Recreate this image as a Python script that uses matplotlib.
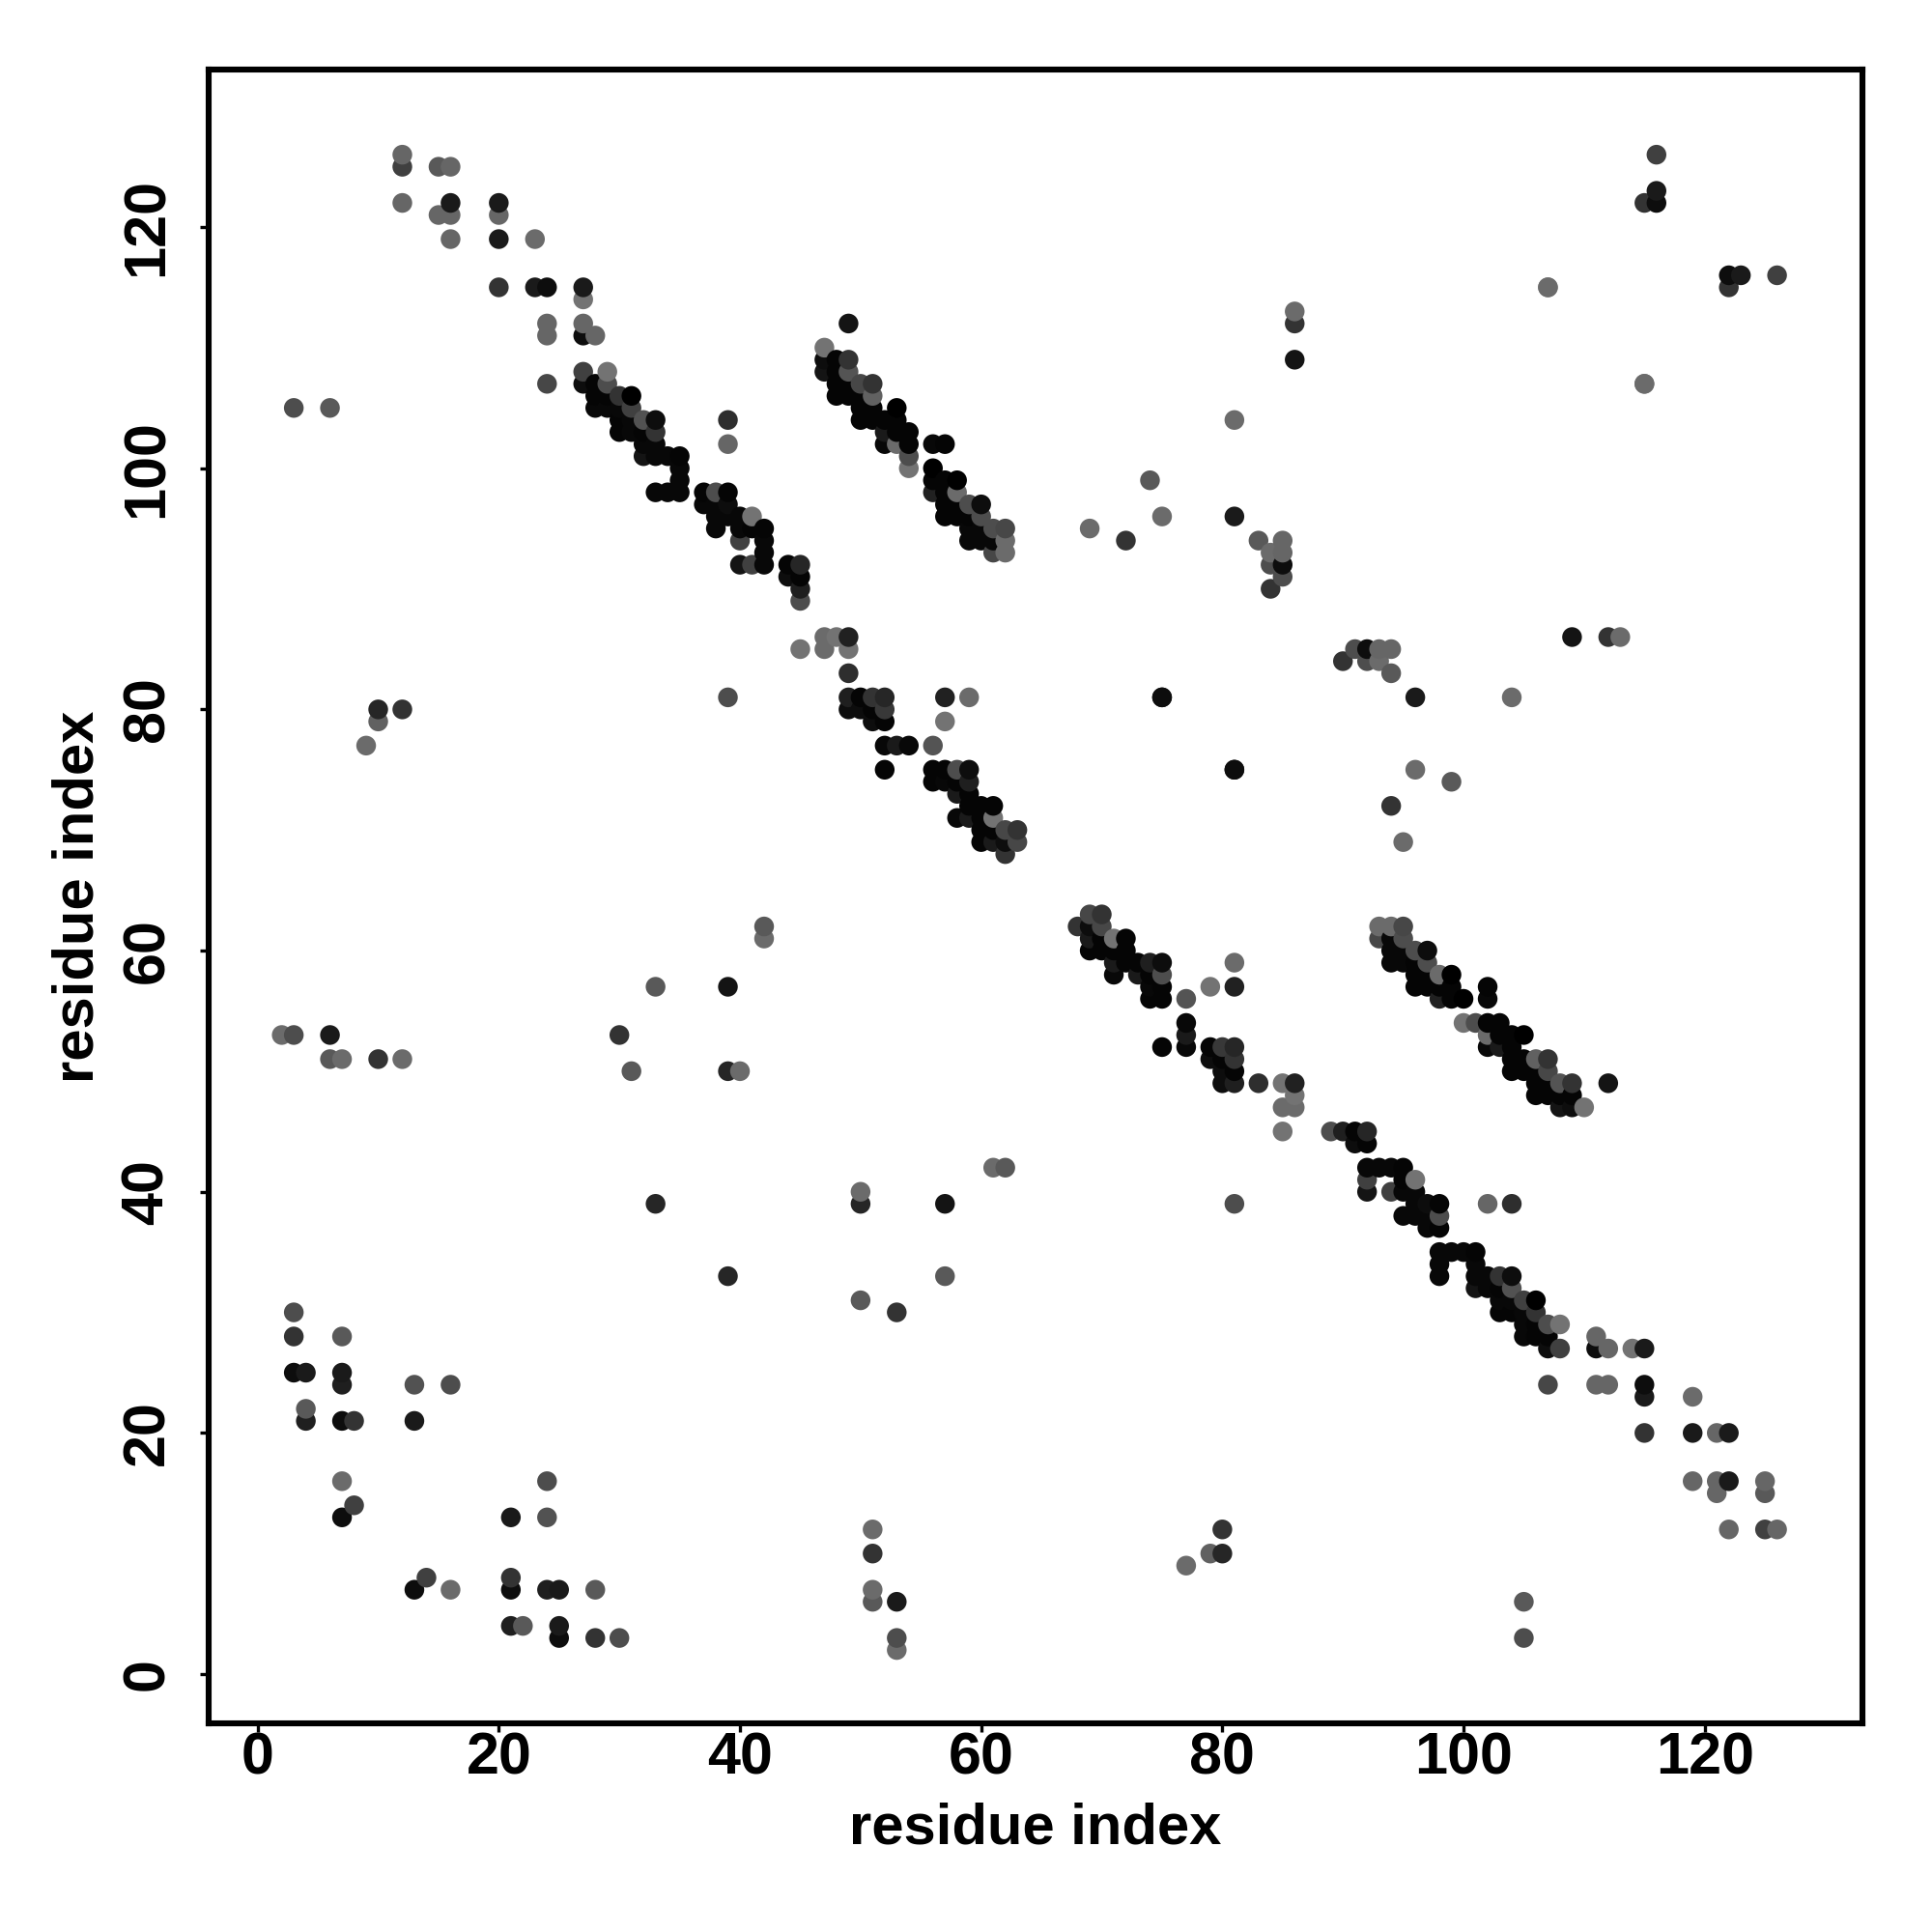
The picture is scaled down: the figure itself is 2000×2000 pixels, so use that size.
"""Residue contact map, symmetric, drawn from the contacts above the diagonal."""
import matplotlib
matplotlib.use("Agg")
import matplotlib.pyplot as plt
import numpy as np

plt.rcParams["font.family"] = ["Liberation Sans", "DejaVu Sans"]
plt.rcParams["font.weight"] = "bold"

ticks = [0, 20, 40, 60, 80, 100, 120]

# long strand pairing, residues 24-63 against 108-68
strand_a_i = [27, 29,
              24, 27, 28, 29,
              28, 29, 30, 31,
              28, 29, 30, 31,
              30, 31, 32, 33,
              30, 31, 32, 33,
              32, 33,
              32, 33, 34, 35,
              35, 35,
              33, 34, 35, 37, 38, 39,
              37, 38, 39,
              38, 39, 40, 41,
              38, 40, 41, 42,
              40, 42, 42,
              40, 41, 42, 44, 45,
              44, 45, 45, 45]
strand_a_j = [108, 108,
              107, 107, 107, 107,
              106, 106, 106, 106,
              105, 105, 105, 105,
              104, 104, 104, 104,
              103, 103, 103, 103,
              102, 102,
              101, 101, 101, 101,
              100, 99,
              98, 98, 98, 98, 98, 98,
              97, 97, 97,
              96, 96, 96, 96,
              95, 95, 95, 95,
              94, 94, 93,
              92, 92, 92, 92, 92,
              91, 91, 90, 89]
strand_a_grey = [.25, .45,
                 .28, .05, .02, .30,
                 .02, .02, .20, .00,
                 .03, .03, .03, .25,
                 .02, .03, .32, .05,
                 .02, .03, .02, .20,
                 .03, .03,
                 .08, .03, .03, .02,
                 .03, .03,
                 .03, .03, .03, .02, .30, .02,
                 .03, .03, .05,
                 .03, .03, .03, .45,
                 .03, .03, .02, .02,
                 .25, .03, .03,
                 .08, .25, .03, .02, .15,
                 .05, .02, .12, .30]

# continuation of the same strand, residues 45-63 against 86-68
strand_b_i = [47, 48, 49,
              45, 47, 49,
              49,
              49, 50, 51, 52,
              49, 50, 51, 52,
              51, 52,
              52, 53, 54, 56,
              52, 56, 57, 58, 59,
              56, 57, 58, 59,
              58, 59,
              59, 60, 61,
              58, 59, 60, 61,
              60, 61, 62, 63,
              60, 61, 62, 63,
              62]
strand_b_j = [86, 86, 86,
              85, 85, 85,
              83,
              81, 81, 81, 81,
              80, 80, 80, 80,
              79, 79,
              77, 77, 77, 77,
              75, 75, 75, 75, 75,
              74, 74, 74, 74,
              73, 73,
              72, 72, 72,
              71, 71, 71, 71,
              70, 70, 70, 70,
              69, 69, 69, 69,
              68]
strand_b_grey = [.42, .45, .13,
                 .45, .42, .45,
                 .18,
                 .12, .02, .20, .15,
                 .05, .05, .02, .22,
                 .05, .02,
                 .03, .10, .03, .33,
                 .02, .02, .02, .30, .05,
                 .02, .03, .02, .12,
                 .10, .02,
                 .02, .02, .02,
                 .03, .10, .02, .45,
                 .02, .02, .28, .20,
                 .02, .10, .05, .28,
                 .20]

# parallel strand, residues 47-62 against 110-93
strand_c_i = [49,
              47,
              47, 48, 49,
              47, 48, 49,
              48, 49, 50, 51,
              48, 49, 50, 51,
              50, 51, 53,
              50, 51, 52, 53,
              52, 53, 54,
              52, 53, 54, 56, 57,
              54,
              54, 56,
              56, 57, 58,
              56, 57, 58,
              57, 58, 59, 60,
              57, 58, 59, 60,
              59, 60, 61, 62,
              59, 60, 61, 62,
              61, 62]
strand_c_j = [112,
              110,
              109, 109, 109,
              108, 108, 108,
              107, 107, 107, 107,
              106, 106, 106, 106,
              105, 105, 105,
              104, 104, 104, 104,
              103, 103, 103,
              102, 102, 102, 102, 102,
              101,
              100, 100,
              99, 99, 99,
              98, 98, 98,
              97, 97, 97, 97,
              96, 96, 96, 96,
              95, 95, 95, 95,
              94, 94, 94, 94,
              93, 93]
strand_c_grey = [.08,
                 .45,
                 .05, .02, .20,
                 .08, .02, .33,
                 .02, .02, .28, .20,
                 .02, .02, .02, .38,
                 .02, .02, .00,
                 .02, .02, .02, .02,
                 .10, .02, .02,
                 .03, .42, .02, .03, .02,
                 .30,
                 .45, .00,
                 .02, .02, .00,
                 .13, .02, .42,
                 .02, .02, .30, .05,
                 .02, .02, .02, .30,
                 .03, .03, .30, .28,
                 .03, .03, .03, .42,
                 .28, .42]

# isolated contacts, first residue below the second
other_i = [12, 12, 12, 15, 16, 15, 16, 16, 16, 20, 20, 20, 23, 20, 23, 24, 27, 27,
           24, 27, 24, 27, 28, 39, 39, 39, 57, 57, 59,
           3, 6, 69, 72, 74, 75, 81, 81, 83, 84, 85, 85, 84, 85, 85, 84,
           86, 86, 86, 107, 115, 115, 116, 116, 116, 75, 81,
           10, 12, 10, 9, 2, 3, 6, 6, 7, 10, 12,
           30, 31, 33, 39, 39, 40, 42, 42, 33,
           3, 3, 7, 3, 4, 7, 7, 13, 16, 4, 4, 7, 8, 13, 7, 8, 7]
other_j = [126, 125, 122, 125, 125, 121, 122, 121, 119, 122, 121, 119, 119, 115, 115, 115, 115, 114,
           112, 112, 111, 111, 111, 104, 102, 81, 81, 79, 81,
           105, 105, 95, 94, 99, 96, 104, 96, 94, 93, 94, 93, 92, 92, 91, 90,
           113, 112, 109, 115, 107, 122, 126, 123, 122, 81, 75,
           80, 80, 79, 77, 53, 53, 53, 51, 51, 51, 51,
           53, 50, 57, 57, 50, 50, 62, 61, 39,
           30, 28, 28, 25, 25, 25, 24, 24, 24, 22, 21, 21, 21, 21, 16, 14, 13]
other_grey = [.40, .25, .40, .35, .40, .40, .10, .40, .40, .10, .40, .10, .42, .20, .10, .05, .10, .45,
              .40, .40, .40, .05, .40, .18, .40, .30, .13, .45, .42,
              .30, .35, .42, .20, .35, .42, .42, .10, .35, .42, .40, .40, .30, .05, .30, .20,
              .42, .20, .08, .42, .42, .20, .25, .10, .05, .05, .05,
              .15, .20, .38, .42, .42, .30, .10, .35, .42, .20, .42,
              .20, .35, .35, .08, .15, .42, .35, .42, .15,
              .30, .20, .35, .05, .10, .10, .12, .32, .30, .35, .12, .05, .20, .10, .42, .25, .05]

upper_i = np.array(strand_a_i + strand_b_i + strand_c_i + other_i)
upper_j = np.array(strand_a_j + strand_b_j + strand_c_j + other_j)
upper_grey = np.array(strand_a_grey + strand_b_grey + strand_c_grey + other_grey)

# map is symmetric, later residues are painted on top
x = np.concatenate([upper_i, upper_j])
y = np.concatenate([upper_j, upper_i])
grey = np.concatenate([upper_grey, upper_grey])
order = np.lexsort((y, x))
colors = [str(g) for g in grey[order]]

fig = plt.figure(figsize=(10, 10), dpi=200)
ax = fig.add_axes([216 / 2000, 1 - 1784 / 2000, 1712 / 2000, 1712 / 2000])
ax.scatter(x[order], y[order], s=54, c=colors, linewidths=0)
ax.set_xlim(-4.06, 133.08)
ax.set_ylim(-4.08, 133.06)
ax.set_xticks(ticks)
ax.set_yticks(ticks)
ax.tick_params(axis="both", length=3.2, width=1.2, labelsize=22)
ax.tick_params(axis="x", pad=0)
ax.tick_params(axis="y", pad=9)
for label in ax.get_yticklabels():
    label.set_rotation(90)
    label.set_va("center")
for spine in ax.spines.values():
    spine.set_linewidth(2.2)
ax.set_xlabel("residue index", fontsize=21.5, fontweight="bold")
ax.set_ylabel("residue index", fontsize=21.5, fontweight="bold")
ax.xaxis.set_label_coords(0.5, -0.0477)
ax.yaxis.set_label_coords(-0.063, 0.5)
fig.savefig("out.png", dpi=200)
